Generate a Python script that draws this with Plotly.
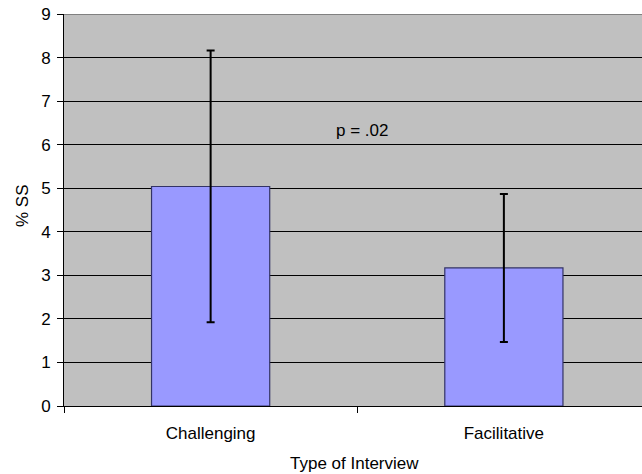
import plotly.graph_objects as go

categories = ["Challenging", "Facilitative"]
values = [5.04, 3.17]
errors = [3.12, 1.70]
y_ticks = [0, 1, 2, 3, 4, 5, 6, 7, 8, 9]
p_label = "p = .02"
x_title = "Type of Interview"
y_title = "% SS"

FONT = "Liberation Sans, Arial"
W, H = 642, 474
L, T = 64, 14
BOT = 406
B = H - BOT
PW, PH = W - L, BOT - T

def py(y_win):
    return (BOT - y_win) / PH

def px(x_win):
    return (x_win - L) / PW

fig = go.Figure()
fig.add_trace(go.Bar(
    x=categories, y=values, width=0.403,
    marker=dict(color="#9999FF", line=dict(color="#333366", width=1.2)),
    error_y=dict(type="data", array=errors, visible=True, color="black", thickness=2, width=4),
))

fig.update_layout(
    width=W, height=H,
    margin=dict(l=L, r=0, t=T, b=B, autoexpand=False),
    paper_bgcolor="white", plot_bgcolor="#C0C0C0",
    showlegend=False,
    font=dict(family=FONT, size=17, color="black"),
    shapes=[dict(type="line", xref="paper", yref="y", x0=0, x1=1, y0=9, y1=9,
                 line=dict(color="#808080", width=2))],
)
fig.add_annotation(x=0.515, y=6.33, xref="x", yref="y", text=p_label, showarrow=False,
                   font=dict(family=FONT, size=17, color="black"))
fig.add_annotation(x=px(354), y=py(463), xref="paper", yref="paper",
                   text=x_title, showarrow=False, yanchor="middle", xanchor="center",
                   font=dict(family=FONT, size=17, color="black"))
fig.add_annotation(x=px(22), y=py(206), xref="paper", yref="paper",
                   text=y_title, showarrow=False, textangle=-90, xanchor="center", yanchor="middle",
                   font=dict(family=FONT, size=17, color="black"))

fig.update_xaxes(range=[-0.5, 1.471], showline=True, linecolor="black", linewidth=1,
                 ticks="outside", tickson="boundaries", ticklen=6, tickcolor="black",
                 tickfont=dict(size=17), showgrid=False, ticklabelstandoff=12, automargin=False)
fig.update_yaxes(range=[0, 9], tickvals=y_ticks, showline=True, linecolor="black", linewidth=1,
                 ticks="outside", ticklen=6, tickcolor="black", gridcolor="black", gridwidth=1,
                 tickfont=dict(size=17), zeroline=False, automargin=False, ticklabelstandoff=3,
                 ticklabeloverflow="allow")

fig.write_html("out.html", config={"displayModeBar": False},
               post_script="document.body.style.margin='0';document.body.style.overflow='hidden';")
